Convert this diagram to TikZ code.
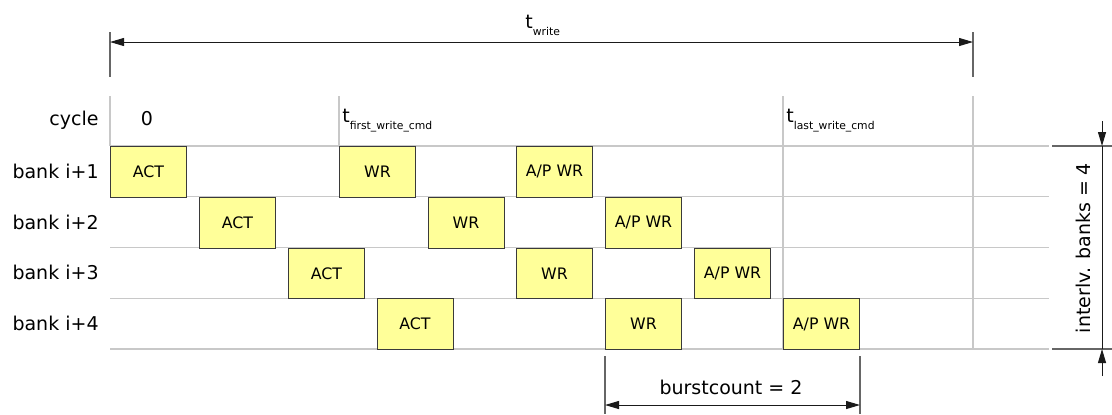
\documentclass[tikz,border=0pt]{standalone}
\usepackage{fontspec}
\setmainfont{DejaVu Sans}
\usetikzlibrary{arrows.meta,calc}
\definecolor{cCmd}{HTML}{FFFF99}
\definecolor{cCmdD}{HTML}{3A3A3A}
\definecolor{cGrid}{HTML}{C8C8C8}
\definecolor{cTick}{HTML}{666666}
\definecolor{cDim}{HTML}{1A1A1A}
\tikzset{
  cmd/.style     ={draw=cCmdD, fill=cCmd, line width=0.5pt, anchor=north west,
                   minimum width=38pt, minimum height=25.375pt, inner sep=0pt,
                   font=\fontsize{7.9}{9}\selectfont},
  gridline/.style={draw=cGrid, line width=0.6pt},
  tick/.style    ={draw=cTick, line width=0.75pt},
  dim/.style     ={{Triangle[length=7pt,width=4pt]}-{Triangle[length=7pt,width=4pt]},
                   line width=0.5pt, draw=cDim},
  dimin/.style   ={-{Triangle[length=7pt,width=4pt]}, line width=0.5pt, draw=cDim},
  lbl/.style     ={font=\fontsize{9.5}{11}\selectfont, inner sep=0pt},
}
\newcommand{\tsub}[1]{t\raisebox{-3.5pt}{\fontsize{5.4}{6}\selectfont #1}}

\begin{document}
\begin{tikzpicture}[x=0.5pt, y=-0.5pt]
  \useasboundingbox (0,0) rectangle (1112,414);

  % ===== grid =====
  \foreach \y in {146,196.75,247.5,298.25,349}
    \draw[gridline] (110,\y) -- (1049,\y);
  \draw[gridline] (110,96) -- (110,146);
  \draw[gridline] (339,96) -- (339,146);
  \draw[gridline] (783,96) -- (783,349);
  \draw[gridline] (973,96) -- (973,349);

  % ===== row labels =====
  \node[lbl, anchor=base east] (cyc) at (99,125) {cycle};
  \foreach \r in {1,...,4}
    \node[lbl, anchor=east] (bank\r) at (99,{171.4+(\r-1)*50.75}) {bank i+\r};

  % ===== cycle marks =====
  \node[lbl, anchor=base] (zero) at (147,125) {0};
  \node[lbl, anchor=base west] (tfirst) at (342,122) {\tsub{first\_write\_cmd}};
  \node[lbl, anchor=base west] (tlast) at (786,122) {\tsub{last\_write\_cmd}};

  % ===== commands per bank =====
  \foreach \x/\r/\n/\t in {110/1/act1/ACT, 199/2/act2/ACT, 288/3/act3/ACT, 376.5/4/act4/ACT,
                           339/1/wr1/WR, 427.5/2/wr2/WR, 516/3/wr3/WR, 605/4/wr4/WR,
                           516/1/apwr1/{A/P WR}, 605/2/apwr2/{A/P WR}, 694/3/apwr3/{A/P WR},
                           783/4/apwr4/{A/P WR}}
    \node[cmd] (\n) at (\x,{146+(\r-1)*50.75}) {\t};

  % ===== t_write =====
  \coordinate (twL) at (110,42);
  \coordinate (twR) at (973,42);
  \draw[tick] (110,32) -- (110,77);
  \draw[tick] (973,32) -- (973,77);
  \draw[dim] (twL) -- (twR);
  \node[lbl, anchor=base west] (twrite) at (525,28) {\tsub{write}};

  % ===== burstcount =====
  \coordinate (bcY) at (0,405);
  \coordinate (bcE) at (0,414);
  \coordinate (bcL) at (wr4.south west |- bcY);
  \coordinate (bcR) at (apwr4.south east |- bcY);
  \draw[tick] ($(wr4.south west)+(0,6)$) -- (wr4.south west |- bcE);
  \draw[tick] ($(apwr4.south east)+(0,6)$) -- (apwr4.south east |- bcE);
  \draw[dim] (bcL) -- (bcR);
  \node[lbl] (burst) at (731,387) {burstcount = 2};

  % ===== interleaved banks =====
  \coordinate (ibT) at (1102,146);
  \coordinate (ibB) at (1102,349);
  \coordinate (ibTo) at (1102,121);
  \coordinate (ibBo) at (1102,376);
  \draw[tick] (1052,146) -- (1112,146);
  \draw[tick] (1052,349) -- (1112,349);
  \draw[line width=0.5pt, draw=cDim] (ibT) -- (ibB);
  \draw[dimin] (ibTo) -- (ibT);
  \draw[dimin] (ibBo) -- (ibB);
  \node[lbl, rotate=90] (ilv) at (1083,248) {interlv. banks = 4};

\end{tikzpicture}
\end{document}
